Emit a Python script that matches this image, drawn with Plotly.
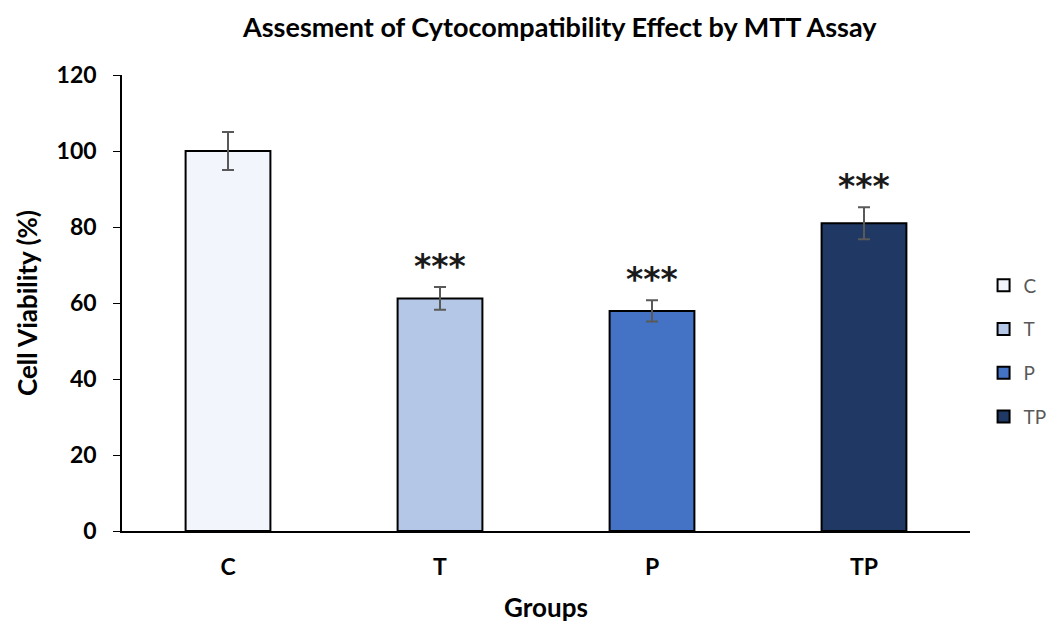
import plotly.graph_objects as go

groups = ["C", "T", "P", "TP"]
viability = [100, 61.2, 57.9, 81]
errors = [5, 3, 2.8, 4.2]
significance = ["", "***", "***", "***"]
colors = ["#F2F5FB", "#B4C7E7", "#4472C4", "#203864"]

FONT = "Lato"
W, H = 1041, 615  # page adds an 8px body margin

fig = go.Figure()
for g, v, e, c in zip(groups, viability, errors, colors):
    fig.add_trace(go.Bar(
        x=[g], y=[v], name=g, legendgroup=g,
        marker=dict(color=c, line=dict(color="black", width=2)),
        width=0.4,
        error_y=dict(type="data", array=[e], visible=True, color="#595959", thickness=2, width=6),
    ))

for g, v, e, s in zip(groups, viability, errors, significance):
    if s:
        fig.add_annotation(x=g, y=v + e, text="<b>" + s + "</b>", showarrow=False, yanchor="bottom", yshift=-1,
                           font=dict(family="DejaVu Sans", size=33, color="#1a1a1a"))

fig.update_layout(
    width=W, height=H,
    margin=dict(l=114, r=79, t=67, b=92, autoexpand=False),
    plot_bgcolor="white", paper_bgcolor="white",
    barmode="overlay",
    title=dict(text="<b>Assesment of Cytocompatibility Effect by MTT Assay</b>", x=0.530, xanchor="center",
               y=1 - 20 / H, yanchor="middle", font=dict(family=FONT, size=27, color="black")),
    font=dict(family=FONT, color="black"),
    legend=dict(x=1.016, xanchor="left", y=0.58, yanchor="top", traceorder="grouped", tracegroupgap=16,
                font=dict(family=FONT, size=19, color="#595959"), itemwidth=30),
    showlegend=True,
)
fig.update_yaxes(range=[0, 120], dtick=20, showline=True, linecolor="black", linewidth=1.5,
                 ticks="outside", ticklen=7, tickcolor="black", showgrid=False, zeroline=False,
                 automargin=False, ticklabelstandoff=12,
                 tickfont=dict(family=FONT, size=23, color="black"),
                 tickprefix="<b>", ticksuffix="</b>",
                 title=dict(text="<b>Cell Viability (%)</b>", font=dict(family=FONT, size=26, color="black"), standoff=12))
fig.update_xaxes(showline=True, linecolor="black", linewidth=1.5, ticks="", showgrid=False,
                 automargin=False,
                 tickfont=dict(family=FONT, size=23, color="black"), ticklabelstandoff=15,
                 tickprefix="<b>", ticksuffix="</b>",
                 title=dict(text="<b>Groups</b>", font=dict(family=FONT, size=26, color="black"), standoff=22))

fig.write_html("out.html")
